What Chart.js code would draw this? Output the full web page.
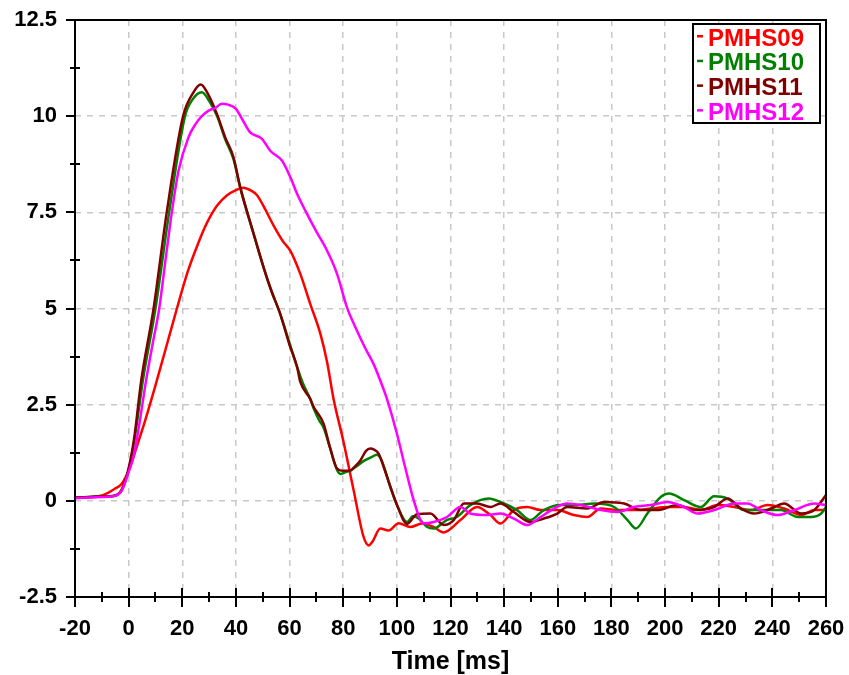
<!DOCTYPE html>
<html>
<head>
<meta charset="utf-8">
<script src="https://cdn.jsdelivr.net/npm/chart.js@4"></script>
<style>
  html, body { margin: 0; padding: 0; background: #fff; }
  #wrap { width: 849px; height: 675px; }
</style>
</head>
<body>
<div id="wrap"><canvas id="c"></canvas></div>
<script>
// PMHS09
const t09 = [-20,-10,-5,-2.5,0,3,6,10,14,18,22,25.4,28,30.5,33,36.6,40,42.8,45.5,47.8,50,54,57.5,60.3,64,67.7,71.5,74,76.4,80,83.9,87.6,89.5,91,93.8,96.9,100.7,105,109.4,113.7,117.5,123.7,129.9,134.9,138.6,143.6,148.6,153.6,159.8,166,171,176,182.2,188.4,194.7,200.9,207.1,213.3,219.5,225.8,232,238.2,244.4,250.7,255.6,260];
const v09 = [0.08,0.14,0.32,0.45,0.78,1.4,2.05,3.0,4.0,5.0,5.95,6.6,7.05,7.4,7.68,7.94,8.08,8.14,8.07,7.95,7.7,7.16,6.75,6.5,5.9,5.12,4.34,3.6,2.65,1.57,0.27,-0.94,-1.16,-1.05,-0.72,-0.77,-0.58,-0.68,-0.59,-0.68,-0.82,-0.5,-0.16,-0.37,-0.59,-0.24,-0.16,-0.24,-0.24,-0.37,-0.42,-0.2,-0.24,-0.24,-0.2,-0.16,-0.16,-0.24,-0.11,-0.16,-0.24,-0.11,-0.2,-0.37,-0.24,-0.24];

// PMHS10
const t10 = [-20,-10,-5,-2.5,0,2,5.3,10,15.1,21,24,27.3,30,33,36,39,41.6,46.6,50.3,53,56.5,60,62.8,65,67.7,69,71,72.7,75,77.7,79,81,82.6,85,88,90.7,92.5,94,97.6,100,103.8,106,108,111.3,113.7,118.6,122.4,127.4,134.3,138.6,144.8,149.8,154.8,161,167.2,173.5,181,186,189.1,193.4,198.4,201.5,207.1,213.3,218.3,223.3,229.5,235.7,243.2,249.5,254.4,258.2,260];
const v10 = [0.08,0.11,0.14,0.3,0.8,1.5,3.13,5.0,7.5,10.0,10.45,10.62,10.4,10.0,9.4,8.9,8.15,6.94,6.07,5.5,4.86,4.1,3.48,3.05,2.65,2.4,2.1,1.9,1.4,0.8,0.7,0.75,0.78,0.9,1.05,1.14,1.2,1.1,0.36,-0.1,-0.55,-0.4,-0.45,-0.68,-0.72,-0.5,-0.42,-0.11,0.06,-0.03,-0.24,-0.5,-0.24,-0.11,-0.11,-0.07,-0.16,-0.5,-0.72,-0.33,0.1,0.19,0.02,-0.16,0.12,0.06,-0.24,-0.24,-0.24,-0.42,-0.42,-0.33,-0.16];

// PMHS11
const t11 = [-20,-10,-5,-2.5,0,2,4.7,9.3,14.2,20.3,24,26.9,29,32.9,36,39.1,41.6,46.6,50.3,53,56.5,60,62.8,64,67.7,69,72.7,75,77.7,80,82.6,84.5,86.4,88.5,90.1,91.5,93.2,95,97.6,100,103.8,107.5,112.5,117.5,121.2,125,129.9,134.9,138.6,143.6,149.8,154.8,159.8,163.5,171,177.2,184.7,190.9,197.1,204.6,210.9,218.3,223.3,228.3,233.2,239.5,244.4,250.7,255.6,260];
const v11 = [0.08,0.11,0.14,0.3,0.85,1.6,3.13,5.0,7.5,10.0,10.6,10.82,10.65,10.06,9.45,8.93,8.15,6.94,6.07,5.5,4.86,4.05,3.48,3.09,2.65,2.44,2.0,1.4,0.84,0.78,0.79,0.9,1.05,1.3,1.36,1.33,1.23,0.9,0.36,-0.1,-0.6,-0.35,-0.33,-0.63,-0.5,-0.07,-0.07,-0.16,-0.07,-0.29,-0.55,-0.46,-0.33,-0.16,-0.2,-0.03,-0.07,-0.24,-0.24,-0.11,-0.24,-0.16,0.06,-0.2,-0.33,-0.2,-0.07,-0.33,-0.24,0.15];

// PMHS12
const t12 = [-20,-10,-5,-2.5,0,2,4,6.5,9,11.4,14,16.1,18.6,22.3,25,27.3,30,32,34.8,37,40,42.5,45.3,49.7,52.8,57.2,60.3,63,66.5,70,74,77.7,81.4,85.1,88,91.3,93.8,96.3,100,103,106.3,108.8,110,113.7,118.7,123.7,127.4,133.6,138.6,143.6,148.6,153.6,158.6,163.5,168.5,176,182.2,188.4,194.7,200.9,207.1,212.1,218.3,225.8,230.7,235.7,242,248.2,255.6,260];
const v12 = [0.07,0.1,0.13,0.27,0.75,1.2,2.0,3.13,4.1,5.0,6.4,7.5,8.58,9.45,9.8,10.0,10.15,10.2,10.32,10.3,10.19,9.9,9.58,9.41,9.1,8.84,8.41,7.95,7.46,7.0,6.5,5.9,5.03,4.43,4.0,3.56,3.13,2.65,1.75,0.9,0.01,-0.5,-0.59,-0.55,-0.42,-0.16,-0.33,-0.37,-0.33,-0.46,-0.63,-0.42,-0.2,-0.07,-0.11,-0.24,-0.29,-0.16,-0.11,-0.03,-0.16,-0.33,-0.24,-0.07,-0.07,-0.24,-0.37,-0.24,-0.07,-0.11];

const names = ['PMHS09', 'PMHS10', 'PMHS11', 'PMHS12'];
const colors = ['#ff0000', '#008000', '#800000', '#ff00ff'];
const times = [t09, t10, t11, t12];
const values = [v09, v10, v11, v12];

function pts(t, v) {
  return t.map((x, i) => ({ x: x, y: v[i] }));
}

// frame, tick marks and the boxed legend
const decor = {
  id: 'decor',
  afterDatasetsDraw(chart) {
    const ctx = chart.ctx;
    const a = chart.chartArea;
    const xs = chart.scales.x, ys = chart.scales.y;
    ctx.save();
    ctx.strokeStyle = '#000';
    ctx.lineWidth = 2;
    ctx.strokeRect(a.left, a.top, a.right - a.left, a.bottom - a.top);
    ctx.beginPath();
    for (let v = -2.5; v <= 12.5; v += 1.25) {
      const y = Math.round(ys.getPixelForValue(v));
      if (Math.abs(v / 2.5 - Math.round(v / 2.5)) < 1e-6) {
        ctx.moveTo(a.left - 9, y); ctx.lineTo(a.left, y);
      } else {
        ctx.moveTo(a.left - 5, y); ctx.lineTo(a.left + 5, y);
      }
    }
    for (let t = -20; t <= 260; t += 10) {
      const x = Math.round(xs.getPixelForValue(t));
      if (t % 20 === 0) {
        ctx.moveTo(x, a.bottom - 9); ctx.lineTo(x, a.bottom + 10);
      } else {
        ctx.moveTo(x, a.bottom - 5); ctx.lineTo(x, a.bottom + 5);
      }
    }
    ctx.stroke();
    ctx.restore();
  },
  afterDraw(chart) {
    const ctx = chart.ctx;
    ctx.save();
    ctx.fillStyle = '#fff';
    ctx.fillRect(693, 24, 127, 99);
    ctx.strokeStyle = '#000';
    ctx.lineWidth = 2;
    ctx.strokeRect(693, 24, 127, 99);
    ctx.font = 'bold 24px "Liberation Sans", Arial, sans-serif';
    ctx.textBaseline = 'middle';
    names.forEach((n, i) => {
      const y = 38 + i * 24.7;
      ctx.fillStyle = colors[i];
      ctx.fillRect(697, y - 3, 6, 2.5);
      ctx.fillText(n, 708, y + 1);
    });
    ctx.restore();
  }
};

new Chart(document.getElementById('c'), {
  type: 'line',
  data: {
    datasets: names.map((n, i) => ({
      label: n,
      data: pts(times[i], values[i]),
      borderColor: colors[i],
      borderWidth: 2.5,
      pointRadius: 0,
      fill: false,
      cubicInterpolationMode: 'monotone',
      order: 4 - i
    }))
  },
  options: {
    responsive: true,
    maintainAspectRatio: false,
    animation: false,
    layout: { padding: { top: 20, right: 23, left: 0, bottom: 0 } },
    plugins: { legend: { display: false }, tooltip: { enabled: false } },
    scales: {
      x: {
        type: 'linear',
        min: -20, max: 260,
        ticks: { stepSize: 20, color: '#000', padding: 2,
                 font: { family: '"Liberation Sans", Arial', size: 22, weight: 'bold' } },
        grid: { color: '#c8c8c8', lineWidth: 1.5, drawTicks: true, tickLength: 17, tickColor: 'rgba(0,0,0,0)' },
        border: { display: false, dash: [6, 6] },
        title: { display: true, text: 'Time [ms]', color: '#000', padding: { top: 0, bottom: 0 },
                 font: { family: '"Liberation Sans", Arial', size: 25, weight: 'bold', lineHeight: 1 } },
        afterFit(s) { s.height = 78; }
      },
      y: {
        min: -2.5, max: 12.5,
        ticks: { stepSize: 2.5, color: '#000', padding: 2,
                 font: { family: '"Liberation Sans", Arial', size: 22, weight: 'bold' } },
        grid: { color: '#c8c8c8', lineWidth: 1.5, drawTicks: true, tickLength: 16, tickColor: 'rgba(0,0,0,0)' },
        border: { display: false, dash: [6, 6] },
        afterFit(s) { s.width = 75; }
      }
    }
  },
  plugins: [decor]
});
</script>
</body>
</html>
